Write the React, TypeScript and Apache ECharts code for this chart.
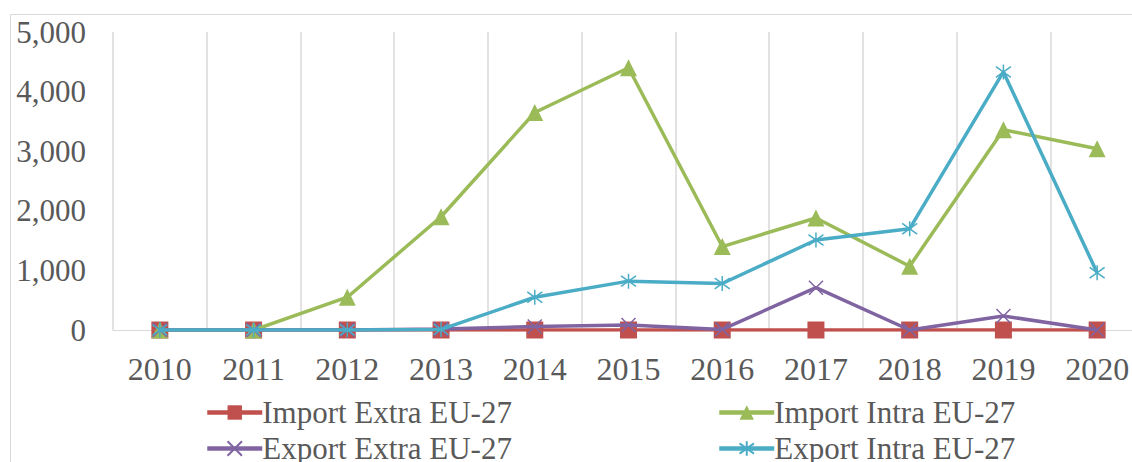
import React, { useEffect, useRef } from "react";
import * as echarts from "echarts";

const years = ["2010", "2011", "2012", "2013", "2014", "2015", "2016", "2017", "2018", "2019", "2020"];
const importExtra = [0, 0, 0, 0, 0, 0, 0, 0, 0, 0, 0];
const importIntra = [0, 0, 550, 1900, 3650, 4400, 1400, 1880, 1070, 3360, 3040];
const exportExtra = [0, 0, 0, 15, 60, 85, 10, 710, 0, 235, 0];
const exportIntra = [0, 0, 0, 10, 550, 820, 780, 1510, 1700, 4330, 960];
const seriesNames = ["Import Extra EU-27", "Import Intra EU-27", "Export Extra EU-27", "Export Intra EU-27"];

const FONT = "'Liberation Serif', 'Times New Roman', serif";
const TXT = "#595959";
const GRIDC = "#d9d9d9";

export default function App() {
  const ref = useRef<HTMLDivElement>(null);
  useEffect(() => {
    if (!ref.current) return;
    const chart = echarts.init(ref.current, null, { renderer: "svg" });
    const colors = ["#C0504D", "#9BBB59", "#8064A2", "#4BACC6"];
    const datas = [importExtra, importIntra, exportExtra, exportIntra];
    const symbols = [
      "rect",
      "triangle",
      "path://M0,0L10,10M10,0L0,10",
      "path://M0,0L10,10M10,0L0,10M5,-2L5,12",
    ];
    const sizes = [17, 17, 14, 15];
    const legendPos = [
      { left: 205, top: 397 },
      { left: 717, top: 397 },
      { left: 205, top: 433 },
      { left: 717, top: 433 },
    ];
    chart.setOption({
      animation: false,
      color: colors,
      graphic: [
        {
          type: "rect",
          shape: { x: 10.5, y: 14.5, width: 1300, height: 600 },
          style: { fill: "none", stroke: GRIDC, lineWidth: 1 },
          silent: true,
        },
      ],
      grid: { left: 113, right: 4, top: 32, bottom: 132 },
      xAxis: {
        type: "category",
        data: years,
        boundaryGap: true,
        axisLine: { show: true, lineStyle: { color: GRIDC, width: 1 } },
        axisTick: { show: false },
        splitLine: { show: true, lineStyle: { color: GRIDC, width: 1.5 } },
        axisLabel: { color: TXT, fontFamily: FONT, fontSize: 32, margin: 23 },
      },
      yAxis: {
        type: "value",
        min: 0,
        max: 5000,
        interval: 1000,
        axisLine: { show: false },
        axisTick: { show: false },
        splitLine: { show: false },
        axisLabel: {
          color: TXT,
          fontFamily: FONT,
          fontSize: 31,
          margin: 27,
          formatter: (v: number) => v.toLocaleString("en-US"),
        },
      },
      legend: seriesNames.map((n, i) => ({
        data: [n],
        left: legendPos[i].left,
        top: legendPos[i].top,
        padding: 0,
        itemWidth: 55,
        itemHeight: 18,
        itemGap: 5,
        lineStyle: { width: 4.5 },
        textStyle: { color: TXT, fontFamily: FONT, fontSize: 31, padding: [0, 0, 0, -5] },
        selectedMode: false,
      })),
      series: seriesNames.map((n, i) => ({
        name: n,
        type: "line",
        data: datas[i],
        symbol: symbols[i],
        symbolSize: sizes[i],
        showAllSymbol: true,
        lineStyle: { color: colors[i], width: 3.5 },
        itemStyle: {
          color: colors[i],
          borderColor: colors[i],
          borderWidth: i >= 2 ? 1.5 : 0,
        },
        z: 2 + i,
      })),
    });
    return () => chart.dispose();
  }, []);
  return (
    <div
      ref={ref}
      style={{ position: "fixed", left: 0, top: 0, width: 1148, height: 462, background: "#fff" }}
    />
  );
}
